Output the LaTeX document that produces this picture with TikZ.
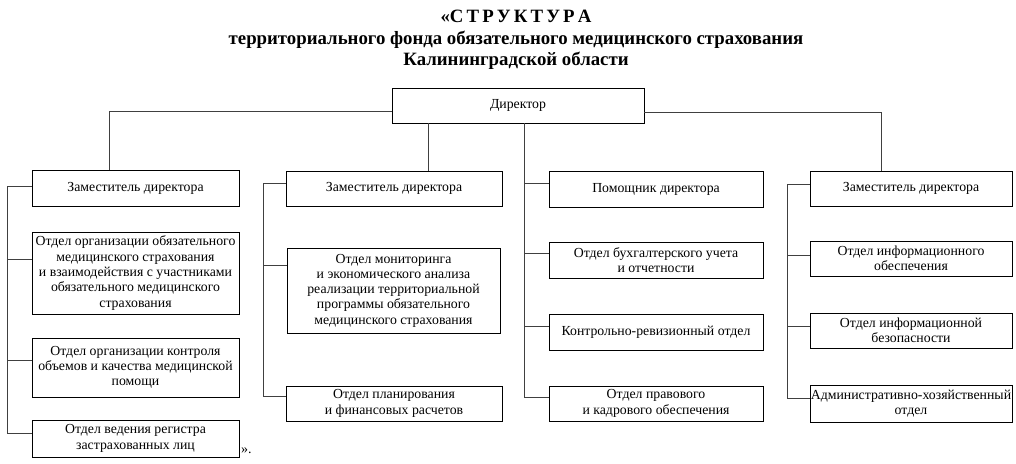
\documentclass[tikz,border=0pt]{standalone}
\usepackage{fontspec}
\setmainfont{Liberation Serif}
\begin{document}
\begin{tikzpicture}[x=1pt,y=-1pt,
  bx/.style={draw,line width=0.9pt,align=center,inner sep=0.5pt,font=\fontsize{13.8}{15.3}\selectfont},
  ln/.style={line width=0.9pt,draw=black!75}]
\useasboundingbox (0,0) rectangle (1016,463);
\node[font=\bfseries\fontsize{18.8}{21.5}\selectfont,align=center] (title) at (516,40)
 {«С\,Т\,Р\,У\,К\,Т\,У\,Р\,А\\территориального фонда обязательного медицинского страхования\\Калининградской области};
\newcommand\bxn[6]{\node[bx,minimum width={#4-#2},minimum height={#5-#3}] (#1) at ({(#2+#4)/2},{(#3+#5)/2}) {#6};}
\bxn{dir}{392}{88}{644}{123}{Директор}
% column 1
\bxn{d1}{32}{170}{239}{206}{Заместитель директора}
\bxn{a2}{32}{232}{239}{314}{Отдел организации обязательного\\медицинского страхования\\и взаимодействия с участниками\\обязательного медицинского\\страхования}
\bxn{a3}{32}{338}{239}{397}{Отдел организации контроля\\объемов и качества медицинской\\помощи}
\bxn{a4}{32}{420}{239}{457}{Отдел ведения регистра\\застрахованных лиц}
\node[font=\fontsize{14}{15}\selectfont,anchor=west,inner sep=0] (q) at (241,451) {».};
% column 2
\bxn{d2}{286}{171}{502}{206}{Заместитель директора}
\bxn{b2}{287}{248}{500}{333}{Отдел мониторинга\\и экономического анализа\\реализации территориальной\\программы обязательного\\медицинского страхования}
\bxn{b3}{286}{386}{502}{421}{Отдел планирования\\и финансовых расчетов}
% column 3
\bxn{c1}{549}{171}{763}{207}{Помощник директора}
\bxn{c2}{549}{242}{763}{278}{Отдел бухгалтерского учета\\и отчетности}
\bxn{c3}{549}{314}{763}{350}{Контрольно-ревизионный отдел}
\bxn{c4}{549}{386}{763}{421}{Отдел правового\\и кадрового обеспечения}
% column 4
\bxn{d4}{810}{171}{1012}{206}{Заместитель директора}
\bxn{e2}{810}{241}{1012}{276}{Отдел информационного\\обеспечения}
\bxn{e3}{810}{313}{1012}{348}{Отдел информационной\\безопасности}
\bxn{e4}{810}{385}{1012}{422}{Административно-хозяйственный\\отдел}
% coordinates
\coordinate (s1) at (7,0);
\coordinate (s2) at (263,0);
\coordinate (s3) at (524,0);
\coordinate (s4) at (787,0);
\foreach \n/\y in {l1/186,l2/259,l3/360,l4/433,m1/183,m2/265,m3/396,k1/183,k2/253,k3/326,k4/397,r1/184,r2/255,r3/326,r4/398,t1/111,t2/112}
  \coordinate (\n) at (0,\y);
% director links
\draw[ln] (dir.west |- t1) -| (d1.north -| 109,0);
\draw[ln] (dir.south -| 428,0) -- (d2.north -| 428,0);
\draw[ln] (dir.east |- t2) -| (d4.north -| 881,0);
\draw[ln] (dir.south -| s3) -- (s3 |- k4) -- (c4.west |- k4);
% column 1
\draw[ln] (d1.west |- l1) -- (s1 |- l1) -- (s1 |- l4) -- (a4.west |- l4);
\draw[ln] (s1 |- l2) -- (a2.west |- l2);
\draw[ln] (s1 |- l3) -- (a3.west |- l3);
% column 2
\draw[ln] (d2.west |- m1) -- (s2 |- m1) -- (s2 |- m3) -- (b3.west |- m3);
\draw[ln] (s2 |- m2) -- (b2.west |- m2);
% column 3
\draw[ln] (s3 |- k1) -- (c1.west |- k1);
\draw[ln] (s3 |- k2) -- (c2.west |- k2);
\draw[ln] (s3 |- k3) -- (c3.west |- k3);
% column 4
\draw[ln] (d4.west |- r1) -- (s4 |- r1) -- (s4 |- r4) -- (e4.west |- r4);
\draw[ln] (s4 |- r2) -- (e2.west |- r2);
\draw[ln] (s4 |- r3) -- (e3.west |- r3);
\end{tikzpicture}
\end{document}
